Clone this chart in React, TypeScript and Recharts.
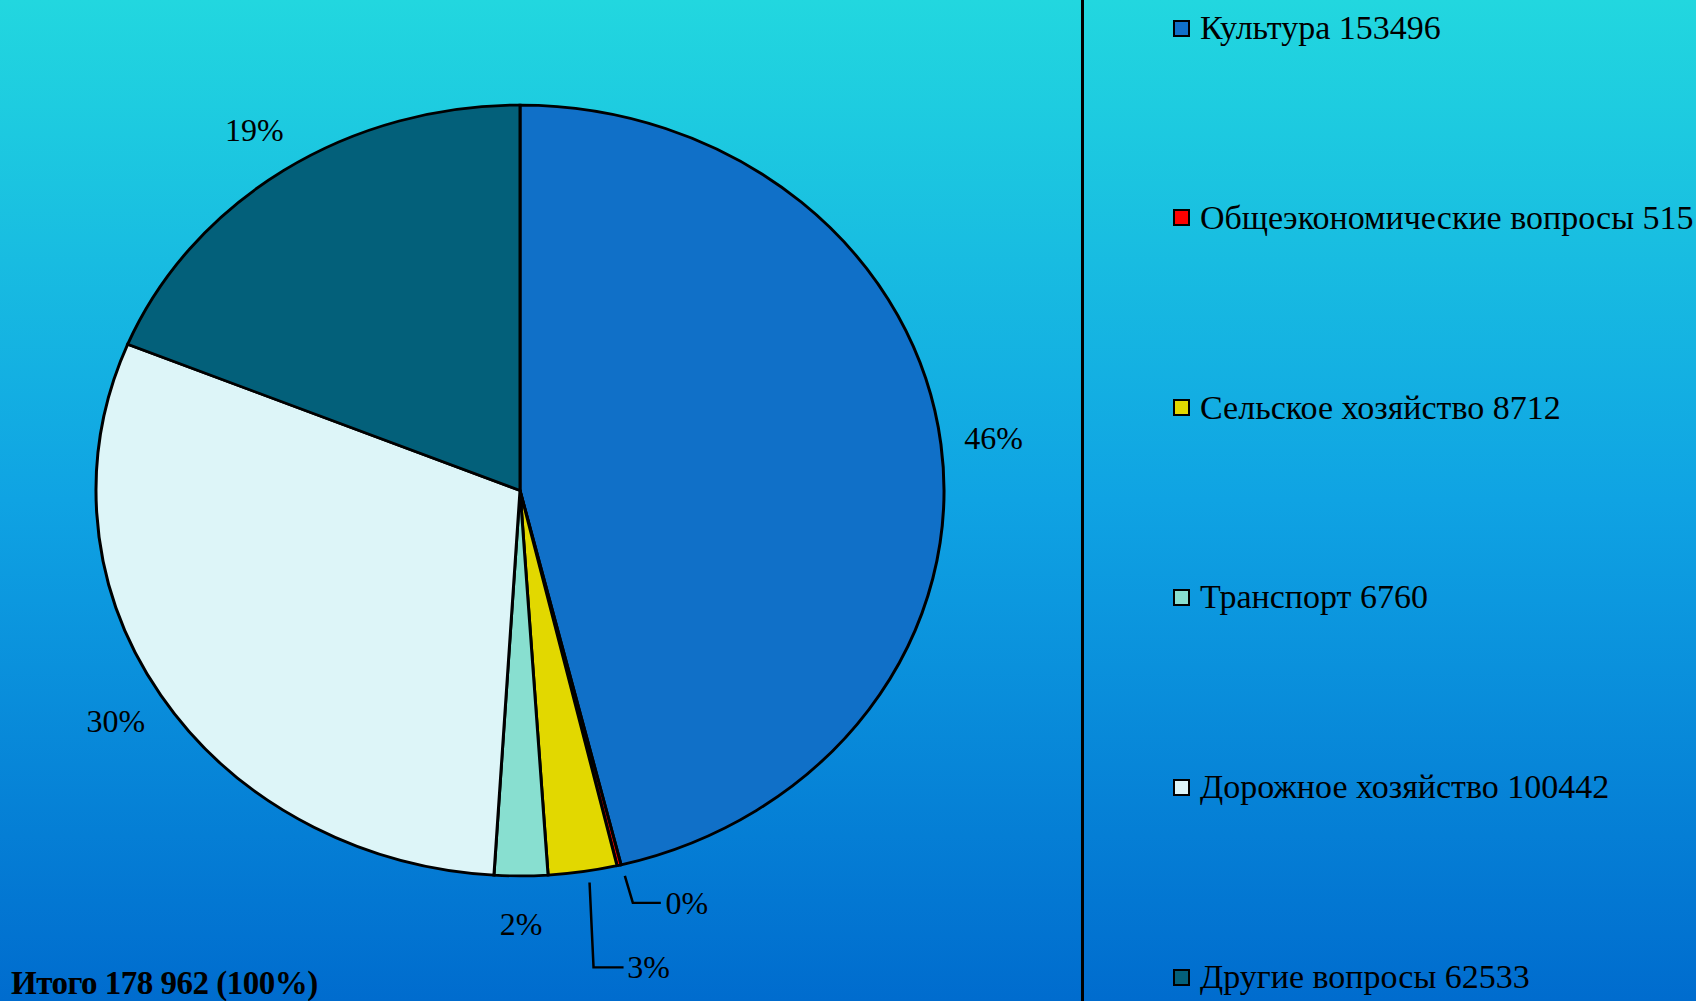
import { PieChart, Pie, Cell } from "recharts";

const categories = [
  "Культура",
  "Общеэкономические вопросы",
  "Сельское хозяйство",
  "Транспорт",
  "Дорожное хозяйство",
  "Другие вопросы",
];
const amounts = [153496, 515, 8712, 6760, 100442, 62533];
const sliceColors = ["#1070C8", "#FF0000", "#E2D800", "#88DFD0", "#DDF5F8", "#03607A"];
const totalLabel = "Итого 178 962 (100%)";

// leader lines for the two small slices, screen px offsets from the slice edge
const leaders: Record<number, { sx: number; dx1: number; dy: number; dx2: number; tx: number }> = {
  1: { sx: 3, dx1: 8, dy: 27, dx2: 36, tx: 62 },
  2: { sx: 5, dx1: 4, dy: 85, dx2: 34, tx: 59 },
};

const pieData = categories.map((name, i) => ({ name, value: amounts[i] }));

const SY = 0.909; // the pie is an ellipse: squash vertically
const RAD = Math.PI / 180;
const FONT = '"Liberation Serif", "Times New Roman", serif';

const renderLabel = (props: any) => {
  const { cx, cy, midAngle, outerRadius, percent, index } = props;
  const text = `${Math.round(percent * 100)}%`;
  const cos = Math.cos(-midAngle * RAD);
  const sin = Math.sin(-midAngle * RAD);
  const unsquash = (y: number) =>
    `translate(0 ${y}) scale(1 ${1 / SY}) translate(0 ${-y})`;
  const lead = leaders[index];
  if (lead) {
    const x0 = cx + (outerRadius + 12) * cos + lead.sx;
    const y0 = cy + (outerRadius + 12) * sin;
    const y1 = y0 + lead.dy / SY;
    return (
      <g>
        <polyline
          points={`${x0},${y0} ${x0 + lead.dx1},${y1} ${x0 + lead.dx2},${y1}`}
          fill="none"
          stroke="#000"
          strokeWidth={2.5}
        />
        <text
          x={x0 + lead.tx}
          y={y1}
          transform={unsquash(y1)}
          textAnchor="middle"
          dominantBaseline="central"
          fontFamily={FONT}
          fontSize={32}
          fill="#000"
        >
          {text}
        </text>
      </g>
    );
  }
  const r = outerRadius + 53;
  const x = cx + r * cos;
  const y = cy + r * sin;
  return (
    <text
      x={x}
      y={y}
      transform={unsquash(y)}
      textAnchor="middle"
      dominantBaseline="central"
      fontFamily={FONT}
      fontSize={32}
      fill="#000"
    >
      {text}
    </text>
  );
};

export default function App() {
  return (
    <div
      style={{
        position: "absolute",
        left: 0,
        top: 0,
        width: 1696,
        height: 1001,
        overflow: "hidden",
        background: "linear-gradient(to bottom, #22D7DF 0%, #0FA3E3 50%, #006CCE 100%)",
        fontFamily: FONT,
      }}
    >
      <div
        style={{
          position: "absolute",
          left: 0,
          top: 0,
          transform: `scaleY(${SY})`,
          transformOrigin: "0 0",
        }}
      >
        <PieChart width={1083} height={1100} margin={{ top: 0, right: 0, bottom: 0, left: 0 }}>
          <Pie
            data={pieData}
            dataKey="value"
            nameKey="name"
            cx={520}
            cy={539.6}
            outerRadius={424}
            startAngle={90}
            endAngle={-270}
            stroke="#000"
            strokeWidth={3}
            label={renderLabel}
            labelLine={false}
            isAnimationActive={false}
          >
            {pieData.map((d, i) => (
              <Cell key={d.name} fill={sliceColors[i]} />
            ))}
          </Pie>
        </PieChart>
      </div>

      <div
        style={{
          position: "absolute",
          left: 1081,
          top: 0,
          width: 3,
          height: 1001,
          background: "#000",
        }}
      />

      {categories.map((name, i) => (
        <div
          key={name}
          style={{
            position: "absolute",
            left: 1173,
            top: 28 + i * 189.8 - 20,
            height: 40,
            display: "flex",
            alignItems: "center",
            whiteSpace: "nowrap",
            fontSize: 34,
            lineHeight: "40px",
            color: "#000",
          }}
        >
          <span
            style={{
              display: "inline-block",
              width: 17,
              height: 17,
              boxSizing: "border-box",
              border: "2.5px solid #000",
              background: sliceColors[i],
              marginRight: 10,
            }}
          />
          <span>{`${name} ${amounts[i]}`}</span>
        </div>
      ))}

      <div
        style={{
          position: "absolute",
          left: 11,
          top: 966,
          fontSize: 33,
          fontWeight: "bold",
          lineHeight: "34px",
          whiteSpace: "nowrap",
          letterSpacing: -0.5,
          color: "#000",
        }}
      >
        {totalLabel}
      </div>
    </div>
  );
}
